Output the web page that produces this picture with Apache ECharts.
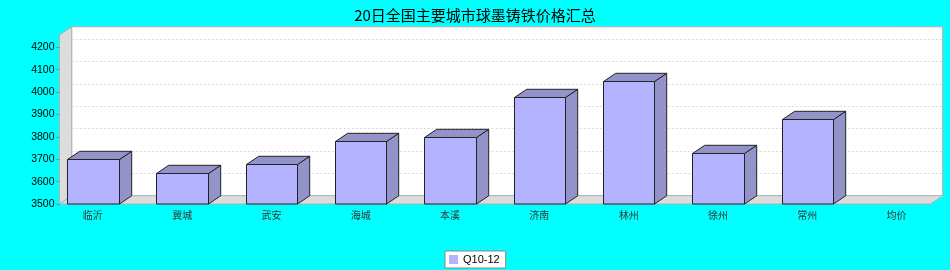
<!DOCTYPE html>
<html>
<head>
<meta charset="utf-8">
<script src="https://cdn.jsdelivr.net/npm/echarts@6/dist/echarts.min.js"></script>
<style>html,body{margin:0;padding:0;background:#00ffff;}#c{width:950px;height:270px;}</style>
</head>
<body>
<div id="c"></div>
<script>
const categories = ['临沂', '冀城', '武安', '海城', '本溪', '济南', '林州', '徐州', '常州', '均价'];
const seriesName = 'Q10-12';
const values = [3700, 3640, 3680, 3780, 3800, 3980, 4050, 3730, 3880, '-'];
const yMin = 3500, yMax = 4200, yStep = 100;
const titleText = '20日全国主要城市球墨铸铁价格汇总';

// 3D frame geometry (pixels)
const FL = 59.5, FR = 930.5, FT = 35, FB = 204, DX = 12.2, DY = -8.2;
const W = 950, H = 270;
const FRONT = '#b3b3ff', DARK = '#9393c9', EDGE = '#222222';

const chart = echarts.init(document.getElementById('c'), null, {renderer: 'canvas'});

const option = {
  backgroundColor: '#00ffff',
  animation: false,
  title: {
    text: titleText, left: 'center', top: 3,
    textStyle: {fontFamily: 'Noto Sans CJK SC', fontSize: 15, fontWeight: 'normal', color: '#000'}
  },
  legend: {
    data: [seriesName], left: 445, top: 251,
    icon: 'rect', itemWidth: 9, itemHeight: 9, itemGap: 5,
    padding: [3, 6, 3, 4], borderColor: '#888', borderWidth: 1, borderRadius: 0,
    backgroundColor: '#fff',
    textStyle: {fontFamily: 'Liberation Sans', fontSize: 11, color: '#000'}
  },
  graphic: [
    {type: 'polygon', z: 0, shape: {points: [[FL + DX, FT + DY], [FR + DX, FT + DY], [FR + DX, FB + DY], [FL + DX, FB + DY]]},
      style: {fill: '#ffffff', stroke: '#b0b0b0', lineWidth: 1}},
    {type: 'polygon', z: 0, shape: {points: [[FL, FT], [FL + DX, FT + DY], [FL + DX, FB + DY], [FL, FB]]},
      style: {fill: '#dcdcdc', stroke: '#b0b0b0', lineWidth: 1}},
    {type: 'polygon', z: 0, shape: {points: [[FL, FB], [FR, FB], [FR + DX, FB + DY], [FL + DX, FB + DY]]},
      style: {fill: '#dcdcdc', stroke: '#b0b0b0', lineWidth: 1}}
  ],
  grid: [
    {left: FL, right: W - FR, top: 47.3, bottom: H - FB, containLabel: false},
    {left: 48.2, right: 8.8, top: 47.3, bottom: H - FB, containLabel: false},
    {left: FL + DX, right: W - FR - DX, top: 47.3 + DY, bottom: H - FB - DY, containLabel: false}
  ],
  xAxis: [
    {type: 'category', gridIndex: 0, data: categories, show: false},
    {type: 'category', gridIndex: 1, data: categories, boundaryGap: true,
      axisLine: {show: false}, axisTick: {show: false},
      axisLabel: {margin: 6, fontFamily: 'Noto Sans CJK SC', fontSize: 10, color: '#333', interval: 0}},
    {type: 'category', gridIndex: 2, data: categories, show: false}
  ],
  yAxis: [
    {type: 'value', gridIndex: 0, min: yMin, max: yMax, interval: yStep,
      axisLine: {show: false},
      axisTick: {show: true, length: 3, lineStyle: {color: '#9a8070'}},
      axisLabel: {margin: 5, fontFamily: 'Liberation Sans', fontSize: 10.5, color: '#000',
        formatter: function (v) { return String(v); }},
      splitLine: {show: false}},
    {type: 'value', gridIndex: 1, min: yMin, max: yMax, interval: yStep, show: false, splitLine: {show: false}},
    {type: 'value', gridIndex: 2, min: yMin, max: yMax, interval: yStep, z: 1,
      axisLine: {show: false}, axisTick: {show: false}, axisLabel: {show: false},
      splitLine: {show: true, lineStyle: {color: '#dadada', type: [2, 2], width: 1}}}
  ],
  series: [{
    name: seriesName,
    type: 'custom',
    xAxisIndex: 1, yAxisIndex: 1,
    z: 3,
    clip: false,
    itemStyle: {color: FRONT},
    data: categories.map((c, i) => [i, values[i]]),
    encode: {x: 0, y: 1},
    renderItem: function (params, api) {
      const v = api.value(1);
      if (v == null || isNaN(v)) return;
      const top = api.coord([api.value(0), v]);
      const base = api.coord([api.value(0), yMin]);
      const bw = api.size([1, 0])[0] * 0.575;
      const x0 = Math.round(top[0] - bw / 2) + 0.5;
      const x1 = Math.round(top[0] + bw / 2) + 0.5;
      const yt = Math.round(top[1]) + 0.5;
      const yb = Math.round(base[1]);
      return {
        type: 'group',
        children: [
          {type: 'polygon', shape: {points: [[x1, yb], [x1, yt], [x1 + DX, yt + DY], [x1 + DX, yb + DY]]},
            style: {fill: DARK, stroke: EDGE, lineWidth: 1}},
          {type: 'polygon', shape: {points: [[x0, yt], [x1, yt], [x1 + DX, yt + DY], [x0 + DX, yt + DY]]},
            style: {fill: DARK, stroke: EDGE, lineWidth: 1}},
          {type: 'rect', shape: {x: x0, y: yt, width: x1 - x0, height: yb - yt},
            style: {fill: FRONT, stroke: EDGE, lineWidth: 1}}
        ]
      };
    }
  }]
};
chart.setOption(option);
</script>
</body>
</html>
